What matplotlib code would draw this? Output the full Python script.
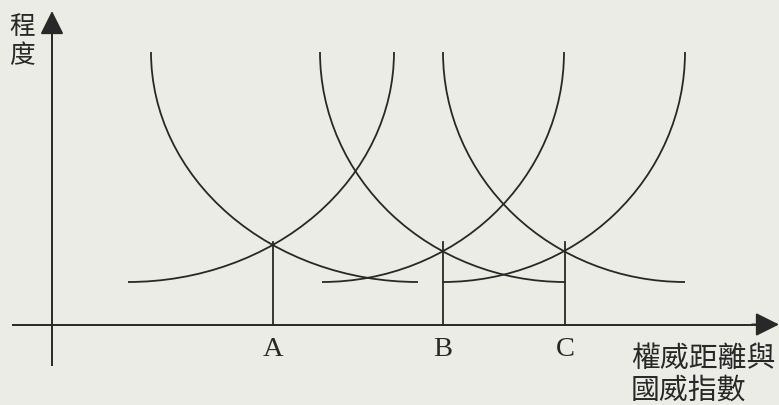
import matplotlib
matplotlib.use("Agg")
import matplotlib.pyplot as plt
from matplotlib.patches import Arc

plt.rcParams['font.family'] = ['Noto Sans CJK TC', 'DejaVu Sans']

# diagram units: origin at the axes crossing, 1 unit ~ 1 px
point_labels = ['A', 'B', 'C']
point_x = [221, 391, 513]
vline_top = [83, 83, 83]

# falling curves: start at the top, end at the bottom
fall_top_x = [99, 268, 391]
fall_bottom_x = [366, 513, 633]
# rising curves: start at the bottom, end at the top
rise_bottom_x = [76, 270, 391]
rise_top_x = [342, 512, 633]
curve_top_y = 272.5
curve_bottom_y = 42.5

y_label = ['程', '度']
x_label = ['權威距離與', '國威指數']

ink = '#282828'
bg = '#ecece6'

fig = plt.figure(figsize=(7.79, 4.06), dpi=100)
fig.patch.set_facecolor(bg)
ax = fig.add_axes([0, 0, 1, 1])
ax.set_facecolor(bg)
ax.set_xlim(-52, 727)
ax.set_ylim(-80.5, 325.5)
ax.axis('off')

# axes with arrow heads
ax.plot([-40, 710], [0, 0], color=ink, lw=1.4, solid_capstyle='butt')
ax.plot([0, 0], [-41.5, 295], color=ink, lw=1.4, solid_capstyle='butt')
head = dict(arrowstyle='-|>,head_length=0.8,head_width=0.4', mutation_scale=18,
            color=ink, lw=1.4, shrinkA=0, shrinkB=0)
ax.annotate('', xy=(727, 0), xytext=(700, 0), arrowprops=head)
ax.annotate('', xy=(0, 313.5), xytext=(0, 285), arrowprops=head)

h = 2 * (curve_top_y - curve_bottom_y)
for x0, x1 in zip(fall_top_x, fall_bottom_x):
    ax.add_patch(Arc((x1, curve_top_y), 2 * (x1 - x0), h, theta1=180, theta2=270,
                     color=ink, lw=1.3))
for x0, x1 in zip(rise_bottom_x, rise_top_x):
    ax.add_patch(Arc((x0, curve_top_y), 2 * (x1 - x0), h, theta1=270, theta2=360,
                     color=ink, lw=1.3))

for lab, x, top in zip(point_labels, point_x, vline_top):
    ax.plot([x, x], [0, top], color=ink, lw=1.3)
    ax.text(x, -24, lab, ha='center', va='center', fontsize=20.5,
            family=['Liberation Serif'], color=ink)

for i, ch in enumerate(y_label):
    ax.text(-30, 298.5 - 29 * i, ch, ha='center', va='center', fontsize=18.5, color=ink)

for i, line in enumerate(x_label):
    ax.text(579, -33 - 32 * i, line, ha='left', va='center', fontsize=20.8, color=ink)

fig.savefig('out.png', dpi=100, facecolor=bg)
